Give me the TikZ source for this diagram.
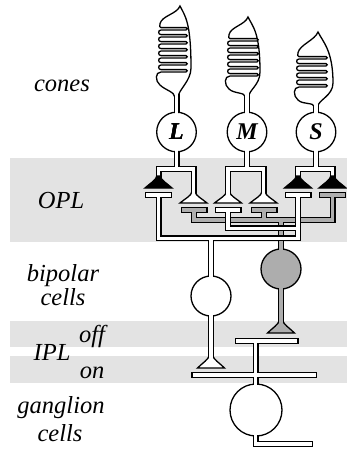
\documentclass[tikz,border=0pt]{standalone}
\usepackage{fontspec}
\setmainfont{Liberation Serif}

\definecolor{bandgray}{gray}{0.89}
\definecolor{offgray}{gray}{0.68}

\tikzset{
  wall/.style={draw=black, line width=6pt, line cap=rect, line join=miter},
  core/.style={draw=#1, line width=3.4pt, line cap=rect, line join=miter},
  core/.default=white,
  rim/.style={draw=black, line width=1.3pt, fill=#1},
  rim/.default=white,
  zone/.style={font=\fontsize{24.5}{28}\selectfont\itshape, inner sep=0pt, anchor=base},
  conename/.style={font=\fontsize{24}{28}\selectfont\bfseries\itshape, inner sep=0pt}
}

% tubes of each cell, drawn twice (wall, then core)
\newcommand\Ltubes{(176.5,94) -- (176.5,114) (176.5,150) -- (176.5,169)
  (158.5,177) -- (158.5,169) -- (193.5,169) -- (193.5,193)}
\newcommand\Mtubes{(247,94) -- (247,114) (247,150) -- (247,169)
  (228,193) -- (228,169) -- (263.5,169) -- (263.5,193)}
\newcommand\Stubes{(316,106) -- (316,114) (316,150) -- (316,169)
  (298,177) -- (298,169) -- (332.5,169) -- (332.5,177)}
\newcommand\ontubes{(148,195) -- (169,195) (287.5,195) -- (308.5,195)
  (217.5,210) -- (238.5,210)
  (158.5,195) -- (158.5,238.3) -- (298,238.3) -- (298,195)
  (228,210) -- (228,228.3) -- (298,228.3)
  (211,238.3) -- (211,278) (211,314) -- (211,356)}
\newcommand\offtubes{(183.5,210) -- (204.5,210) (253.5,210) -- (274.5,210)
  (322,195) -- (343,195)
  (194,210) -- (194,220) -- (332.5,220) -- (332.5,195)
  (264,210) -- (264,220) (281,220) -- (281,251) (281,287) -- (281,321)}
\newcommand\gctubes{(237.6,341) -- (295.7,341) (194.3,375) -- (314,375)
  (255.5,341) -- (255.5,386) (255.5,434) -- (255.5,444) -- (310,444)}

% synaptic foot: options, x, top y, height
\newcommand\synfoot[4]{%
  \draw[#1] (#2-1.7,#3) .. controls (#2-1.7,#3+0.3*#4) and (#2-9,#3+0.65*#4)
    .. (#2-13.5,#3+#4) -- (#2+13.5,#3+#4)
    .. controls (#2+9,#3+0.65*#4) and (#2+1.7,#3+0.3*#4) .. (#2+1.7,#3) -- cycle;}

% outer segment: neck x, neck y, fold x, slit x, right x, bowl y, folds, tip x, tip y
\newcommand\outerseg[9]{%
  \pgfmathsetmacro\ytop{#6-#7*7-2.4}%
  \draw[rim] (#1+1.7,#2) .. controls (#1+1.7,#2-7) and (#5,#6+9) .. (#5,#6-4)
    .. controls (#5,\ytop-6) and (#8+5,#9+10) .. (#8,#9)
    .. controls (#8-3,#9+8) and (#3+1,\ytop-12) .. (#3-1,\ytop-4)
    .. controls (#3-2,\ytop-1.5) and (#3-1,\ytop) .. (#3,\ytop)
    \foreach \k in {1,...,#7}{
      -- (#4,\ytop+\k*7-7) .. controls (#4+1.6,\ytop+\k*7-7) and (#4+1.6,\ytop+\k*7-4.6) .. (#4,\ytop+\k*7-4.6)
      -- (#3,\ytop+\k*7-4.6) .. controls (#3-3.1,\ytop+\k*7-4.6) and (#3-3.1,\ytop+\k*7) .. (#3,\ytop+\k*7)}
    -- (#4,#6-2.4) .. controls (#4+1.6,#6-2.4) and (#4+1.6,#6) .. (#4,#6)
    -- (#3,#6) .. controls (#3-6,#6) and (#3-6,#6+9) .. (#3-1,#6+13)
    .. controls (#3+4,#6+18) and (#1-1.7,#2-5) .. (#1-1.7,#2) -- cycle;}

\begin{document}
\begin{tikzpicture}[x=1pt,y=-1pt]%[scale=0.9]
  \useasboundingbox (0,0) rectangle (347,450);
  \fill[bandgray] (10,158) rectangle (347,242);
  \fill[bandgray] (10,321) rectangle (347,347);
  \fill[bandgray] (10,355.5) rectangle (347,382.5);

  \coordinate (Lc) at (176.5,132);
  \coordinate (Mc) at (247,132);
  \coordinate (Sc) at (316,132);
  \coordinate (onc) at (211,296);
  \coordinate (offc) at (281,269);
  \coordinate (gc) at (256,410);

  \node[zone] (cones) at (62,91) {cones};
  \node[zone] (opl) at (61,208) {OPL};
  \node[zone] (bip) at (63,281) {bipolar};
  \node[zone] (bipcells) at (63,305) {cells};
  \node[zone] (off) at (92,342) {off};
  \node[zone] (ipl) at (52,360) {IPL};
  \node[zone] (on) at (92,378) {on};
  \node[zone] (gang) at (61,413) {ganglion};
  \node[zone] (gangcells) at (60,441) {cells};

  % off bipolar
  \draw[wall] \offtubes;
  \draw[rim=offgray] (offc) circle[radius=20pt];
  \synfoot{rim=offgray}{281}{320}{13}
  \draw[core=offgray] \offtubes;

  % on bipolar
  \draw[wall] \ontubes;
  \draw[rim] (onc) circle[radius=20pt];
  \synfoot{rim}{211}{355}{13}
  \draw[core] \ontubes;

  % ganglion cell
  \draw[wall] \gctubes;
  \draw[rim] (gc) circle[radius=26pt];
  \draw[core] \gctubes;

  % cones
  \draw[wall] \Ltubes \Mtubes \Stubes;
  \outerseg{176.5}{97}{161}{186}{191}{72}{6}{180}{6}
  \outerseg{247}{97}{230}{257}{260}{76}{5}{248}{17}
  \outerseg{316}{107}{299}{326}{333}{87}{4}{318}{32}
  \foreach \c in {Lc,Mc,Sc}
    \draw[rim] (\c) circle[radius=19.8pt];
  \foreach \x in {193.5,228,263.5}
    \synfoot{rim}{\x}{192}{11}
  \draw[core] \Ltubes \Mtubes \Stubes;
  \foreach \x in {158.5,298,332.5}
    \synfoot{rim=black}{\x}{176}{12}
  \node[conename] (Lname) at (Lc) {L};
  \node[conename] (Mname) at (Mc) {M};
  \node[conename] (Sname) at (Sc) {S};
\end{tikzpicture}
\end{document}
